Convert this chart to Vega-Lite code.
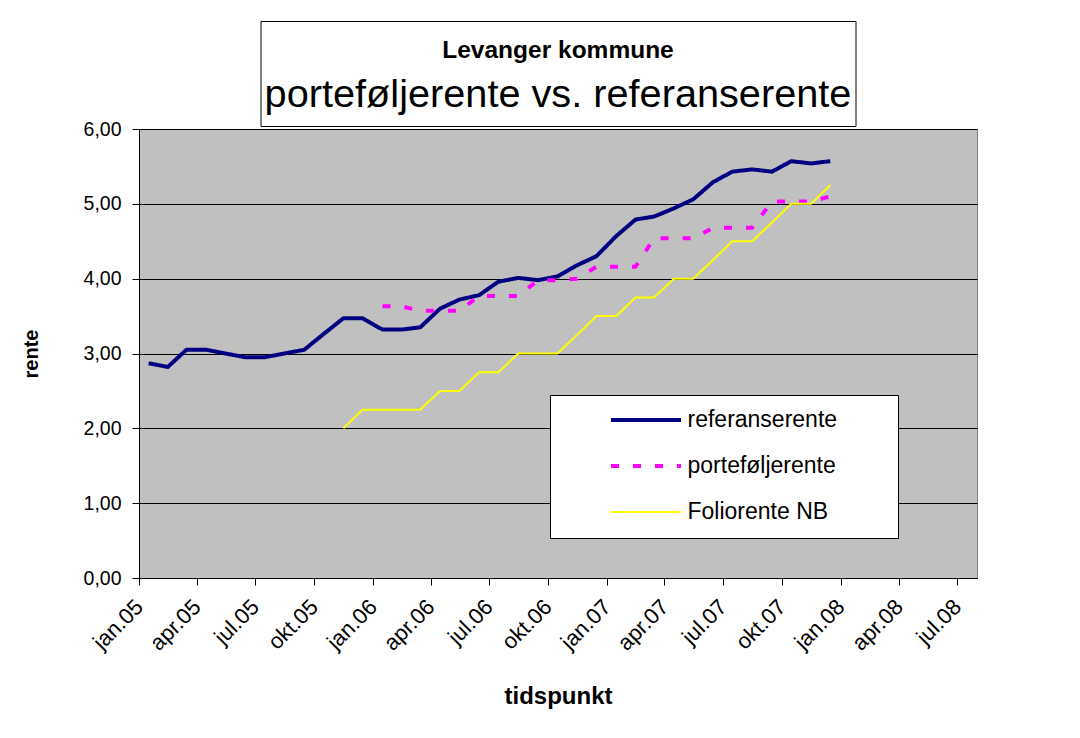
{
  "$schema": "https://vega.github.io/schema/vega-lite/v6.json",
  "background": "white",
  "padding": {"left": 20, "top": 20, "right": 0, "bottom": 0},
  "bounds": "flush",
  "center": true,
  "spacing": 3,
  "config": {
    "font": "Liberation Sans",
    "axis": {"labelFont": "Liberation Sans", "titleFont": "Liberation Sans", "labelColor": "black", "titleColor": "black", "domainColor": "black", "tickColor": "black"},
    "legend": {"labelFont": "Liberation Sans", "labelColor": "black"}
  },
  "datasets": {
    "titles": [
      {"line": 1, "label": "Levanger kommune"},
      {"line": 2, "label": "porteføljerente vs. referanserente"}
    ],
    "rates": [
      {"serie": "referanserente", "date": "2005-01-16", "rente": 2.87},
      {"serie": "referanserente", "date": "2005-02-15", "rente": 2.82},
      {"serie": "referanserente", "date": "2005-03-16", "rente": 3.05},
      {"serie": "referanserente", "date": "2005-04-16", "rente": 3.05},
      {"serie": "referanserente", "date": "2005-05-16", "rente": 3.00},
      {"serie": "referanserente", "date": "2005-06-16", "rente": 2.95},
      {"serie": "referanserente", "date": "2005-07-16", "rente": 2.95},
      {"serie": "referanserente", "date": "2005-08-16", "rente": 3.00},
      {"serie": "referanserente", "date": "2005-09-16", "rente": 3.05},
      {"serie": "referanserente", "date": "2005-10-16", "rente": 3.26},
      {"serie": "referanserente", "date": "2005-11-16", "rente": 3.47},
      {"serie": "referanserente", "date": "2005-12-16", "rente": 3.47},
      {"serie": "referanserente", "date": "2006-01-16", "rente": 3.32},
      {"serie": "referanserente", "date": "2006-02-15", "rente": 3.32},
      {"serie": "referanserente", "date": "2006-03-16", "rente": 3.35},
      {"serie": "referanserente", "date": "2006-04-16", "rente": 3.60},
      {"serie": "referanserente", "date": "2006-05-16", "rente": 3.72},
      {"serie": "referanserente", "date": "2006-06-16", "rente": 3.78},
      {"serie": "referanserente", "date": "2006-07-16", "rente": 3.96},
      {"serie": "referanserente", "date": "2006-08-16", "rente": 4.01},
      {"serie": "referanserente", "date": "2006-09-16", "rente": 3.98},
      {"serie": "referanserente", "date": "2006-10-16", "rente": 4.03},
      {"serie": "referanserente", "date": "2006-11-16", "rente": 4.18},
      {"serie": "referanserente", "date": "2006-12-16", "rente": 4.30},
      {"serie": "referanserente", "date": "2007-01-16", "rente": 4.57},
      {"serie": "referanserente", "date": "2007-02-15", "rente": 4.79},
      {"serie": "referanserente", "date": "2007-03-16", "rente": 4.83},
      {"serie": "referanserente", "date": "2007-04-16", "rente": 4.94},
      {"serie": "referanserente", "date": "2007-05-16", "rente": 5.06},
      {"serie": "referanserente", "date": "2007-06-16", "rente": 5.29},
      {"serie": "referanserente", "date": "2007-07-16", "rente": 5.43},
      {"serie": "referanserente", "date": "2007-08-16", "rente": 5.46},
      {"serie": "referanserente", "date": "2007-09-16", "rente": 5.43},
      {"serie": "referanserente", "date": "2007-10-16", "rente": 5.57},
      {"serie": "referanserente", "date": "2007-11-16", "rente": 5.54},
      {"serie": "referanserente", "date": "2007-12-16", "rente": 5.57},
      {"serie": "porteføljerente", "date": "2006-01-16", "rente": 3.63},
      {"serie": "porteføljerente", "date": "2006-02-15", "rente": 3.63},
      {"serie": "porteføljerente", "date": "2006-03-16", "rente": 3.57},
      {"serie": "porteføljerente", "date": "2006-04-16", "rente": 3.57},
      {"serie": "porteføljerente", "date": "2006-05-16", "rente": 3.57},
      {"serie": "porteføljerente", "date": "2006-06-16", "rente": 3.77},
      {"serie": "porteføljerente", "date": "2006-07-16", "rente": 3.77},
      {"serie": "porteføljerente", "date": "2006-08-16", "rente": 3.77},
      {"serie": "porteføljerente", "date": "2006-09-16", "rente": 3.98},
      {"serie": "porteføljerente", "date": "2006-10-16", "rente": 3.98},
      {"serie": "porteføljerente", "date": "2006-11-16", "rente": 4.00},
      {"serie": "porteføljerente", "date": "2006-12-16", "rente": 4.16},
      {"serie": "porteføljerente", "date": "2007-01-16", "rente": 4.16},
      {"serie": "porteføljerente", "date": "2007-02-15", "rente": 4.16},
      {"serie": "porteføljerente", "date": "2007-03-16", "rente": 4.54},
      {"serie": "porteføljerente", "date": "2007-04-16", "rente": 4.54},
      {"serie": "porteføljerente", "date": "2007-05-16", "rente": 4.54},
      {"serie": "porteføljerente", "date": "2007-06-16", "rente": 4.68},
      {"serie": "porteføljerente", "date": "2007-07-16", "rente": 4.68},
      {"serie": "porteføljerente", "date": "2007-08-16", "rente": 4.68},
      {"serie": "porteføljerente", "date": "2007-09-16", "rente": 5.03},
      {"serie": "porteføljerente", "date": "2007-10-16", "rente": 5.03},
      {"serie": "porteføljerente", "date": "2007-11-16", "rente": 5.03},
      {"serie": "porteføljerente", "date": "2007-12-16", "rente": 5.10},
      {"serie": "Foliorente NB", "date": "2005-11-16", "rente": 2.00},
      {"serie": "Foliorente NB", "date": "2005-12-16", "rente": 2.25},
      {"serie": "Foliorente NB", "date": "2006-01-16", "rente": 2.25},
      {"serie": "Foliorente NB", "date": "2006-02-15", "rente": 2.25},
      {"serie": "Foliorente NB", "date": "2006-03-16", "rente": 2.25},
      {"serie": "Foliorente NB", "date": "2006-04-16", "rente": 2.50},
      {"serie": "Foliorente NB", "date": "2006-05-16", "rente": 2.50},
      {"serie": "Foliorente NB", "date": "2006-06-16", "rente": 2.75},
      {"serie": "Foliorente NB", "date": "2006-07-16", "rente": 2.75},
      {"serie": "Foliorente NB", "date": "2006-08-16", "rente": 3.00},
      {"serie": "Foliorente NB", "date": "2006-09-16", "rente": 3.00},
      {"serie": "Foliorente NB", "date": "2006-10-16", "rente": 3.00},
      {"serie": "Foliorente NB", "date": "2006-11-16", "rente": 3.25},
      {"serie": "Foliorente NB", "date": "2006-12-16", "rente": 3.50},
      {"serie": "Foliorente NB", "date": "2007-01-16", "rente": 3.50},
      {"serie": "Foliorente NB", "date": "2007-02-15", "rente": 3.75},
      {"serie": "Foliorente NB", "date": "2007-03-16", "rente": 3.75},
      {"serie": "Foliorente NB", "date": "2007-04-16", "rente": 4.00},
      {"serie": "Foliorente NB", "date": "2007-05-16", "rente": 4.00},
      {"serie": "Foliorente NB", "date": "2007-06-16", "rente": 4.25},
      {"serie": "Foliorente NB", "date": "2007-07-16", "rente": 4.50},
      {"serie": "Foliorente NB", "date": "2007-08-16", "rente": 4.50},
      {"serie": "Foliorente NB", "date": "2007-09-16", "rente": 4.75},
      {"serie": "Foliorente NB", "date": "2007-10-16", "rente": 5.00},
      {"serie": "Foliorente NB", "date": "2007-11-16", "rente": 5.00},
      {"serie": "Foliorente NB", "date": "2007-12-16", "rente": 5.25}
    ]
  },
  "vconcat": [
    {
      "width": 595,
      "height": 105,
      "view": {"fill": "white", "stroke": "black", "strokeWidth": 1},
      "data": {"name": "titles"},
      "layer": [
        {
          "transform": [{"filter": "datum.line == 1"}],
          "mark": {"type": "text", "fontSize": 24.5, "fontWeight": "bold", "baseline": "alphabetic", "color": "black"},
          "encoding": {
            "text": {"field": "label"},
            "y": {"field": "line", "type": "ordinal", "scale": {"type": "point", "domain": [1, 2], "range": [37, 86], "padding": 0}, "axis": null}
          }
        },
        {
          "transform": [{"filter": "datum.line == 2"}],
          "mark": {"type": "text", "fontSize": 39.7, "baseline": "alphabetic", "color": "black"},
          "encoding": {
            "text": {"field": "label"},
            "y": {"field": "line", "type": "ordinal", "scale": {"type": "point", "domain": [1, 2], "range": [37, 86], "padding": 0}, "axis": null}
          }
        }
      ]
    },
    {
      "width": 838,
      "height": 449,
      "view": {"fill": "#C0C0C0", "stroke": "#808080", "strokeWidth": 1},
      "data": {"name": "rates"},
      "mark": {"type": "line", "strokeJoin": "round"},
      "encoding": {
        "x": {
          "field": "date",
          "type": "temporal",
          "title": "tidspunkt",
          "scale": {"type": "utc", "domain": [{"year": 2005, "month": 1, "date": 1, "utc": true}, {"year": 2008, "month": 8, "date": 1, "utc": true}]},
          "axis": {
            "values": [
              {"year": 2005, "month": 1, "date": 1, "utc": true},
              {"year": 2005, "month": 4, "date": 1, "utc": true},
              {"year": 2005, "month": 7, "date": 1, "utc": true},
              {"year": 2005, "month": 10, "date": 1, "utc": true},
              {"year": 2006, "month": 1, "date": 1, "utc": true},
              {"year": 2006, "month": 4, "date": 1, "utc": true},
              {"year": 2006, "month": 7, "date": 1, "utc": true},
              {"year": 2006, "month": 10, "date": 1, "utc": true},
              {"year": 2007, "month": 1, "date": 1, "utc": true},
              {"year": 2007, "month": 4, "date": 1, "utc": true},
              {"year": 2007, "month": 7, "date": 1, "utc": true},
              {"year": 2007, "month": 10, "date": 1, "utc": true},
              {"year": 2008, "month": 1, "date": 1, "utc": true},
              {"year": 2008, "month": 4, "date": 1, "utc": true},
              {"year": 2008, "month": 7, "date": 1, "utc": true}
            ],
            "labelExpr": "['jan','feb','mar','apr','mai','jun','jul','aug','sep','okt','nov','des'][utcmonth(datum.value)] + '.' + utcFormat(datum.value, '%y')",
            "labelAngle": -45,
            "labelAlign": "right",
            "labelBaseline": "middle",
            "labelFontSize": 22,
            "labelPadding": 18,
            "labelOverlap": false,
            "labelFlush": false,
            "tickSize": 7,
            "tickWidth": 1,
            "domainWidth": 1,
            "grid": false,
            "titleFontSize": 24,
            "titleFontWeight": "bold",
            "titlePadding": 30
          }
        },
        "y": {
          "field": "rente",
          "type": "quantitative",
          "title": "rente",
          "scale": {"domain": [0, 6], "nice": false, "zero": true},
          "axis": {
            "values": [0, 1, 2, 3, 4, 5, 6],
            "labelExpr": "replace(format(datum.value, '.2f'), '.', ',')",
            "labelFontSize": 19.5,
            "labelPadding": 11,
            "tickSize": 7,
            "grid": true,
            "gridColor": "black",
            "gridWidth": 1,
            "gridOpacity": 1,
            "titleFontSize": 20,
            "titleFontWeight": "bold",
            "titlePadding": 42
          }
        },
        "color": {
          "field": "serie",
          "type": "nominal",
          "scale": {"domain": ["referanserente", "porteføljerente", "Foliorente NB"], "range": ["#000080", "#FF00FF", "#FFFF00"]},
          "legend": {
            "title": null,
            "orient": "none",
            "legendX": 411,
            "legendY": 374,
            "direction": "vertical",
            "fillColor": "white",
            "strokeColor": "black",
            "padding": 13.5,
            "symbolType": "M-7,0H7M46,0",
            "symbolSize": 100,
            "symbolOffset": 71,
            "labelFontSize": 23,
            "labelOffset": 30,
            "rowPadding": 22,
            "labelLimit": 400
          }
        },
        "strokeDash": {
          "field": "serie",
          "type": "nominal",
          "scale": {"domain": ["referanserente", "porteføljerente", "Foliorente NB"], "range": [[1, 0], [8, 14], [1, 0]]}
        },
        "strokeWidth": {
          "field": "serie",
          "type": "nominal",
          "scale": {"type": "ordinal", "domain": ["referanserente", "porteføljerente", "Foliorente NB"], "range": [4, 4, 2]}
        }
      }
    }
  ]
}
